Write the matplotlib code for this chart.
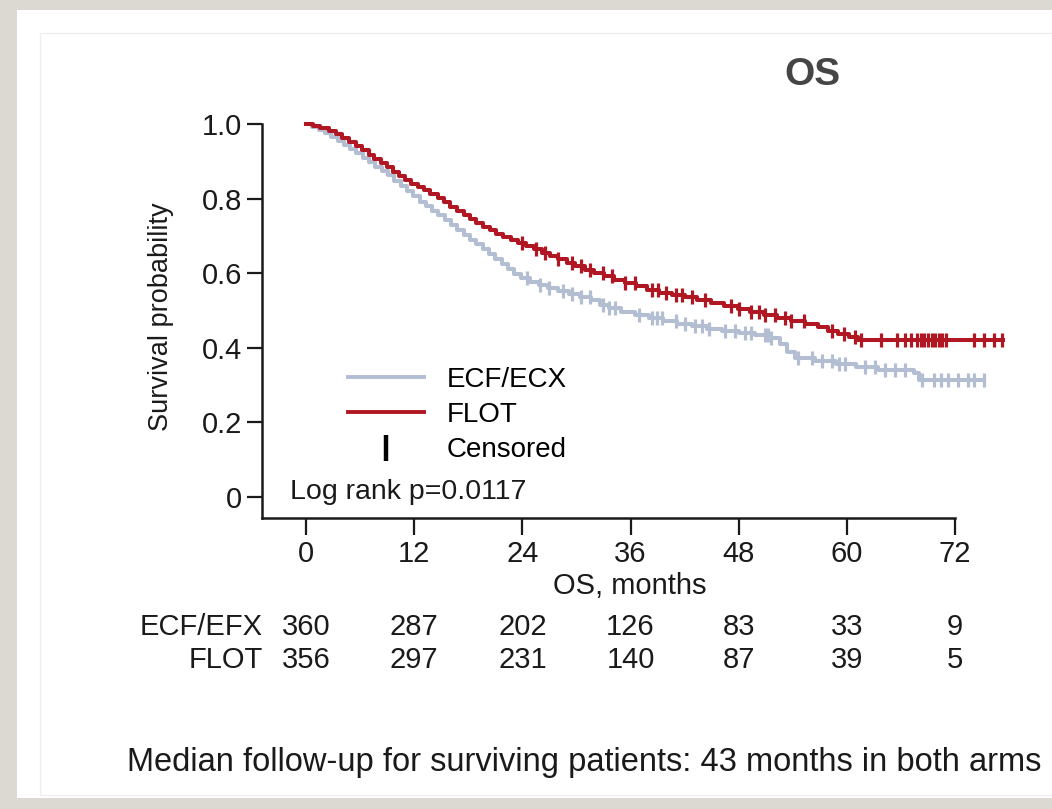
#!/usr/bin/env python3
"""Kaplan-Meier OS curves, ECF/ECX vs FLOT, redrawn from a slide screenshot."""

import numpy as np
import matplotlib
matplotlib.use("Agg")
import matplotlib.pyplot as plt
from matplotlib.lines import Line2D
from matplotlib.patches import Rectangle
import matplotlib.transforms as mtransforms

plt.rcParams['font.family'] = ['Liberation Sans', 'DejaVu Sans']

# ECF/ECX arm: step times (months) and survival after each step
ecf_times = [0, 0.7, 1.4, 2.1, 2.8, 3.5, 4.2, 4.9, 5.6, 6.3, 7.0, 7.7, 8.4, 9.1, 9.8,
             10.5, 11.2, 11.9, 12.6, 13.3, 14.0, 14.7, 15.4, 16.1, 16.8, 17.5, 18.2,
             18.9, 19.6, 20.3, 21.0, 21.7, 22.4, 23.1, 23.8, 24.8, 25.8, 26.9, 28.0,
             29.2, 30.4, 31.6, 32.6, 33.6, 35.0, 36.5, 38.0, 39.6, 41.2, 42.8, 44.5,
             46.2, 48.0, 49.8, 51.6, 52.6, 53.4, 54.2, 56.5, 58.8, 61.0, 63.5, 67.4, 68.0]
ecf_surv = [1.0, 0.992, 0.984, 0.975, 0.965, 0.955, 0.944, 0.932, 0.921, 0.910, 0.898,
            0.886, 0.874, 0.862, 0.848, 0.834, 0.820, 0.806, 0.792, 0.780, 0.768, 0.755,
            0.742, 0.728, 0.715, 0.702, 0.690, 0.677, 0.664, 0.651, 0.638, 0.624, 0.610,
            0.598, 0.586, 0.576, 0.568, 0.560, 0.552, 0.544, 0.536, 0.527, 0.516, 0.506,
            0.497, 0.488, 0.480, 0.472, 0.465, 0.458, 0.451, 0.445, 0.439, 0.433, 0.427,
            0.410, 0.390, 0.372, 0.364, 0.356, 0.348, 0.340, 0.332, 0.314]
ecf_end = 75.2
ecf_censor = [24.5, 26.0, 27.0, 28.5, 29.5, 30.5, 31.5, 32.9, 33.6, 34.3, 36.9, 38.4,
              38.9, 39.5, 41.0, 42.1, 43.2, 43.9, 44.7, 46.5, 47.6, 48.7, 49.4, 50.9,
              51.3, 51.6, 54.6, 56.1, 57.2, 58.3, 59.1, 59.8, 62.0, 63.1, 64.2, 65.3,
              66.4, 68.3, 69.7, 70.5, 71.2, 72.3, 73.4, 74.1, 75.2]

# FLOT arm
flot_times = [0, 0.8, 1.6, 2.5, 3.3, 4.0, 4.8, 5.5, 6.2, 7.0, 7.6, 8.3, 9.0, 9.6, 10.3,
              11.0, 11.7, 12.4, 13.1, 13.8, 14.6, 15.3, 16.0, 16.8, 17.5, 18.2, 18.9,
              19.6, 20.4, 21.1, 21.9, 22.7, 23.5, 24.4, 25.3, 26.2, 27.1, 28.0, 28.9,
              29.8, 30.9, 32.0, 33.1, 34.2, 35.4, 36.6, 37.8, 39.2, 40.6, 42.0, 43.4,
              44.9, 46.4, 47.9, 49.3, 50.8, 52.3, 53.8, 55.4, 56.8, 57.9, 59.0, 60.2, 61.2]
flot_surv = [1.0, 0.994, 0.988, 0.980, 0.972, 0.962, 0.952, 0.942, 0.930, 0.918, 0.905,
             0.895, 0.884, 0.872, 0.860, 0.850, 0.840, 0.830, 0.822, 0.812, 0.802, 0.790,
             0.778, 0.768, 0.756, 0.746, 0.735, 0.724, 0.716, 0.706, 0.698, 0.690, 0.682,
             0.674, 0.664, 0.655, 0.647, 0.638, 0.628, 0.618, 0.609, 0.601, 0.592, 0.583,
             0.574, 0.565, 0.555, 0.548, 0.542, 0.535, 0.528, 0.520, 0.512, 0.504, 0.497,
             0.489, 0.481, 0.473, 0.465, 0.455, 0.446, 0.437, 0.428, 0.421]
flot_end = 77.3
flot_censor = [24.0, 25.5, 26.5, 28.0, 29.5, 30.5, 31.5, 32.9, 34.0, 35.4, 36.5, 38.4,
               39.1, 39.9, 41.0, 41.7, 42.8, 44.3, 47.2, 48.0, 49.4, 50.2, 50.9, 52.0,
               53.1, 53.8, 55.3, 58.3, 59.7, 60.9, 61.6, 63.8, 65.6, 66.4, 67.1, 67.8,
               68.2, 68.6, 69.0, 69.4, 69.8, 70.2, 70.6, 71.0, 74.1, 75.2, 76.3, 77.2]

# numbers at risk
risk_months = [0, 12, 24, 36, 48, 60, 72]
risk_ecf = [360, 287, 202, 126, 83, 33, 9]
risk_flot = [356, 297, 231, 140, 87, 39, 5]

y_ticks = [0, 0.2, 0.4, 0.6, 0.8, 1.0]
y_ticklabels = ['0', '0.2', '0.4', '0.6', '0.8', '1.0']

ECF_COLOR = '#b3bed3'
FLOT_COLOR = '#b01722'
INK = '#1a1a1a'
FS = 21

W, H = 1052, 809


def fx(px):
    return px / W


def fy(py):
    return 1 - py / H


def draw_arm(ax, times, surv, end, censor, color, z):
    t = np.append(times, end)
    s = np.append(surv, surv[-1])
    ax.step(t, s, where='post', color=color, lw=2.9, zorder=z)
    idx = np.searchsorted(times, censor, side='right') - 1
    ax.plot(censor, np.asarray(surv)[idx], ls='none', marker='|', ms=10, mew=2.3,
            color=color, zorder=z)


fig = plt.figure(figsize=(W / 100, H / 100), dpi=100)
fig.patch.set_facecolor('#dcd9d3')

# white slide panel with faint inner border (kept under the axes)
fig.add_artist(Rectangle((fx(17), fy(798)), fx(1052 - 17), 788 / H, zorder=-5,
                         transform=fig.transFigure, facecolor='white', edgecolor='none'))
fig.add_artist(Rectangle((fx(40), fy(795)), fx(1060 - 40), 762 / H, zorder=-4,
                         transform=fig.transFigure, facecolor='none', edgecolor='#efefef', lw=1))

ax = fig.add_axes([fx(262), fy(518), fx(1010 - 262), (518 - 115) / H])
ax.set_facecolor('none')
ax.set_xlim(-4.88, 78.1)
ax.set_ylim(-0.0563, 1.0241)

draw_arm(ax, ecf_times, ecf_surv, ecf_end, ecf_censor, ECF_COLOR, 3)
draw_arm(ax, flot_times, flot_surv, flot_end, flot_censor, FLOT_COLOR, 4)

for side in ['top', 'right']:
    ax.spines[side].set_visible(False)
ax.spines['left'].set_bounds(-0.0563, 1.0)
ax.spines['bottom'].set_bounds(-4.88, 72)
for side in ['left', 'bottom']:
    ax.spines[side].set_linewidth(1.8)
    ax.spines[side].set_color(INK)

ax.set_xticks(risk_months)
ax.set_yticks(y_ticks)
ax.set_yticklabels(y_ticklabels)
ax.tick_params(axis='both', direction='out', width=1.6, labelsize=FS, colors=INK)
ax.tick_params(axis='y', length=10.5, pad=4)
ax.tick_params(axis='x', length=12.5, pad=3)
fig.text(fx(630), fy(586), 'OS, months', ha='center', va='center', fontsize=FS, color=INK)
ax.set_ylabel('Survival probability', fontsize=19.5, labelpad=20, color=INK)

handles = [Line2D([], [], color=ECF_COLOR, lw=2.8),
           Line2D([], [], color=FLOT_COLOR, lw=2.8),
           Line2D([], [], color='black', ls='none', marker='|', ms=19, mew=3.2)]
ax.legend(handles, ['ECF/ECX', 'FLOT', 'Censored'], loc='upper left',
          bbox_to_anchor=(fx(348), fy(367)), bbox_transform=fig.transFigure,
          frameon=False, fontsize=20, handlelength=2.75, handletextpad=0.8,
          labelspacing=0.33, borderpad=0, borderaxespad=0)

fig.text(fx(290), fy(492), 'Log rank p=0.0117', ha='left', va='center',
         fontsize=20.5, color=INK)

# numbers at risk table
trans = mtransforms.blended_transform_factory(ax.transData, fig.transFigure)
for m, a, b in zip(risk_months, risk_ecf, risk_flot):
    ax.text(m, fy(627), str(a), transform=trans, ha='center', va='center',
            fontsize=FS, color=INK)
    ax.text(m, fy(660), str(b), transform=trans, ha='center', va='center',
            fontsize=FS, color=INK)
fig.text(fx(263), fy(627), 'ECF/EFX', ha='right', va='center', fontsize=FS, color=INK)
fig.text(fx(263), fy(660), 'FLOT', ha='right', va='center', fontsize=FS, color=INK)

fig.text(fx(812), fy(75), 'OS', ha='center', va='center', fontsize=28,
         fontweight='bold', color='#454545')
fig.text(fx(127), fy(762), 'Median follow-up for surviving patients: 43 months in both arms',
         ha='left', va='center', fontsize=23.5, color=INK)

fig.savefig('out.png', dpi=100, facecolor=fig.get_facecolor())
